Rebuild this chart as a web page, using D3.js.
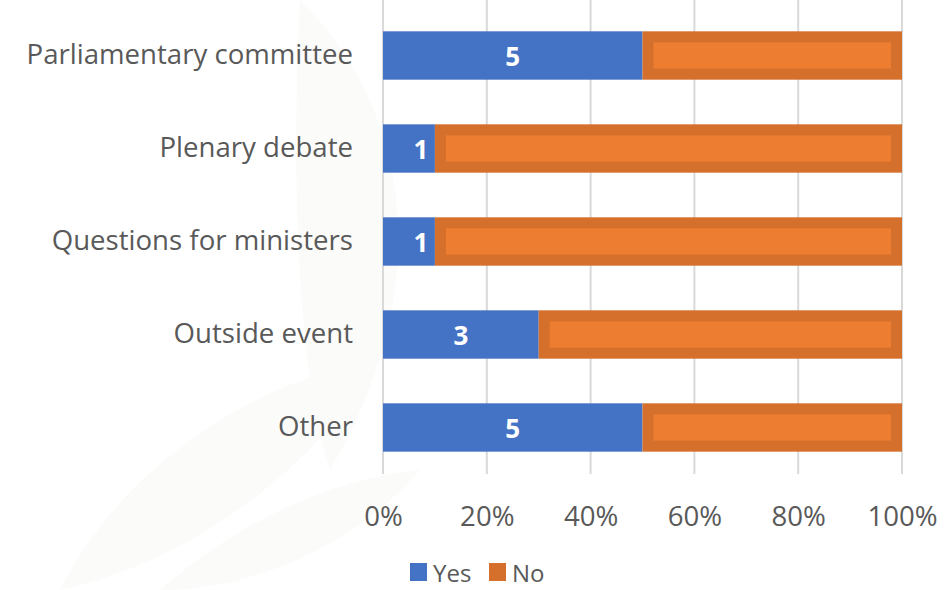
<!DOCTYPE html>
<html><head><meta charset="utf-8">
<script src="https://cdn.jsdelivr.net/npm/d3@7"></script>
<style>body{margin:0;background:#fff;}svg{display:block;font-family:"Open Sans",sans-serif;}</style>
</head><body>
<svg id="c" width="950" height="590"></svg>
<script>
const categories = ["Parliamentary committee","Plenary debate","Questions for ministers","Outside event","Other"];
const yesValues = [5,1,1,3,5];
const noValues = [5,9,9,7,5];
const tickValues = [0,0.2,0.4,0.6,0.8,1];
const seriesNames = ["Yes","No"];

const svg = d3.select("#c");
const x = d3.scaleLinear().domain([0,1]).range([383,902]);
const y = d3.scaleBand().domain(categories).range([9,474]).paddingInner(0.48).paddingOuter(0.24);

// faint watermark
const wm = svg.append("g").attr("fill","#fbfbfa");
wm.append("path").attr("d","M300,0 C420,120 430,300 330,470 C300,380 290,200 300,0 Z");
wm.append("path").attr("d","M60,590 C120,470 250,380 380,360 C320,460 200,560 60,590 Z");
wm.append("path").attr("d","M160,590 C240,520 330,480 420,470 C360,540 260,590 160,590 Z");

// gridlines
svg.append("g").selectAll("line").data(tickValues).join("line")
  .attr("x1",d=>x(d)).attr("x2",d=>x(d)).attr("y1",0).attr("y2",474)
  .attr("stroke","#d9d9d9").attr("stroke-width",2);

const data = categories.map((c,i)=>({c, yes:yesValues[i], no:noValues[i], t:yesValues[i]+noValues[i]}));

// Yes bars
svg.append("g").selectAll("rect").data(data).join("rect")
  .attr("x",x(0)).attr("y",d=>y(d.c)).attr("height",y.bandwidth())
  .attr("width",d=>x(d.yes/d.t)-x(0)).attr("fill","#4472c4");

// No bars (outer dark, inner light)
svg.append("g").selectAll("rect").data(data).join("rect")
  .attr("x",d=>x(d.yes/d.t)).attr("y",d=>y(d.c)).attr("height",y.bandwidth())
  .attr("width",d=>x(1)-x(d.yes/d.t)).attr("fill","#d4702c");
const inset = 11;
svg.append("g").selectAll("rect").data(data).join("rect")
  .attr("x",d=>x(d.yes/d.t)+inset).attr("y",d=>y(d.c)+inset).attr("height",y.bandwidth()-2*inset)
  .attr("width",d=>x(1)-x(d.yes/d.t)-2*inset).attr("fill","#ed7d31");

// labels on Yes
svg.append("g").selectAll("text").data(data).join("text")
  .attr("x",d=>(x(0)+x(d.yes/d.t))/2 + (d.yes/d.t < 0.15 ? 12 : 0)).attr("y",d=>y(d.c)+y.bandwidth()/2)
  .attr("text-anchor","middle").attr("dominant-baseline","central")
  .attr("fill","#fff").attr("font-weight","bold").attr("font-size",26)
  .text(d=>d.yes);

// y axis labels
const ya = svg.append("g").attr("transform","translate(383,0)")
  .call(d3.axisLeft(y).tickSize(0).tickPadding(30));
ya.select(".domain").remove();
ya.selectAll("text").attr("font-size",27.6).attr("fill","#595959").attr("font-family","Open Sans");

// x axis labels
const xa = svg.append("g").attr("transform","translate(0,474)")
  .call(d3.axisBottom(x).tickValues(tickValues).tickFormat(d3.format(".0%")).tickSize(0).tickPadding(32));
xa.select(".domain").remove();
xa.selectAll("text").attr("font-size",27.6).attr("fill","#595959").attr("font-family","Open Sans");

// legend
const leg = svg.append("g").attr("transform","translate(410,563)");
const colors = ["#4472c4","#d4702c"];
const offsets = [0,79];
seriesNames.forEach((n,i)=>{
  leg.append("rect").attr("x",offsets[i]).attr("y",0).attr("width",17).attr("height",18).attr("fill",colors[i]);
  leg.append("text").attr("x",offsets[i]+23).attr("y",9).attr("dominant-baseline","central")
    .attr("font-size",24).attr("fill","#595959").text(n);
});
</script>
</body></html>
